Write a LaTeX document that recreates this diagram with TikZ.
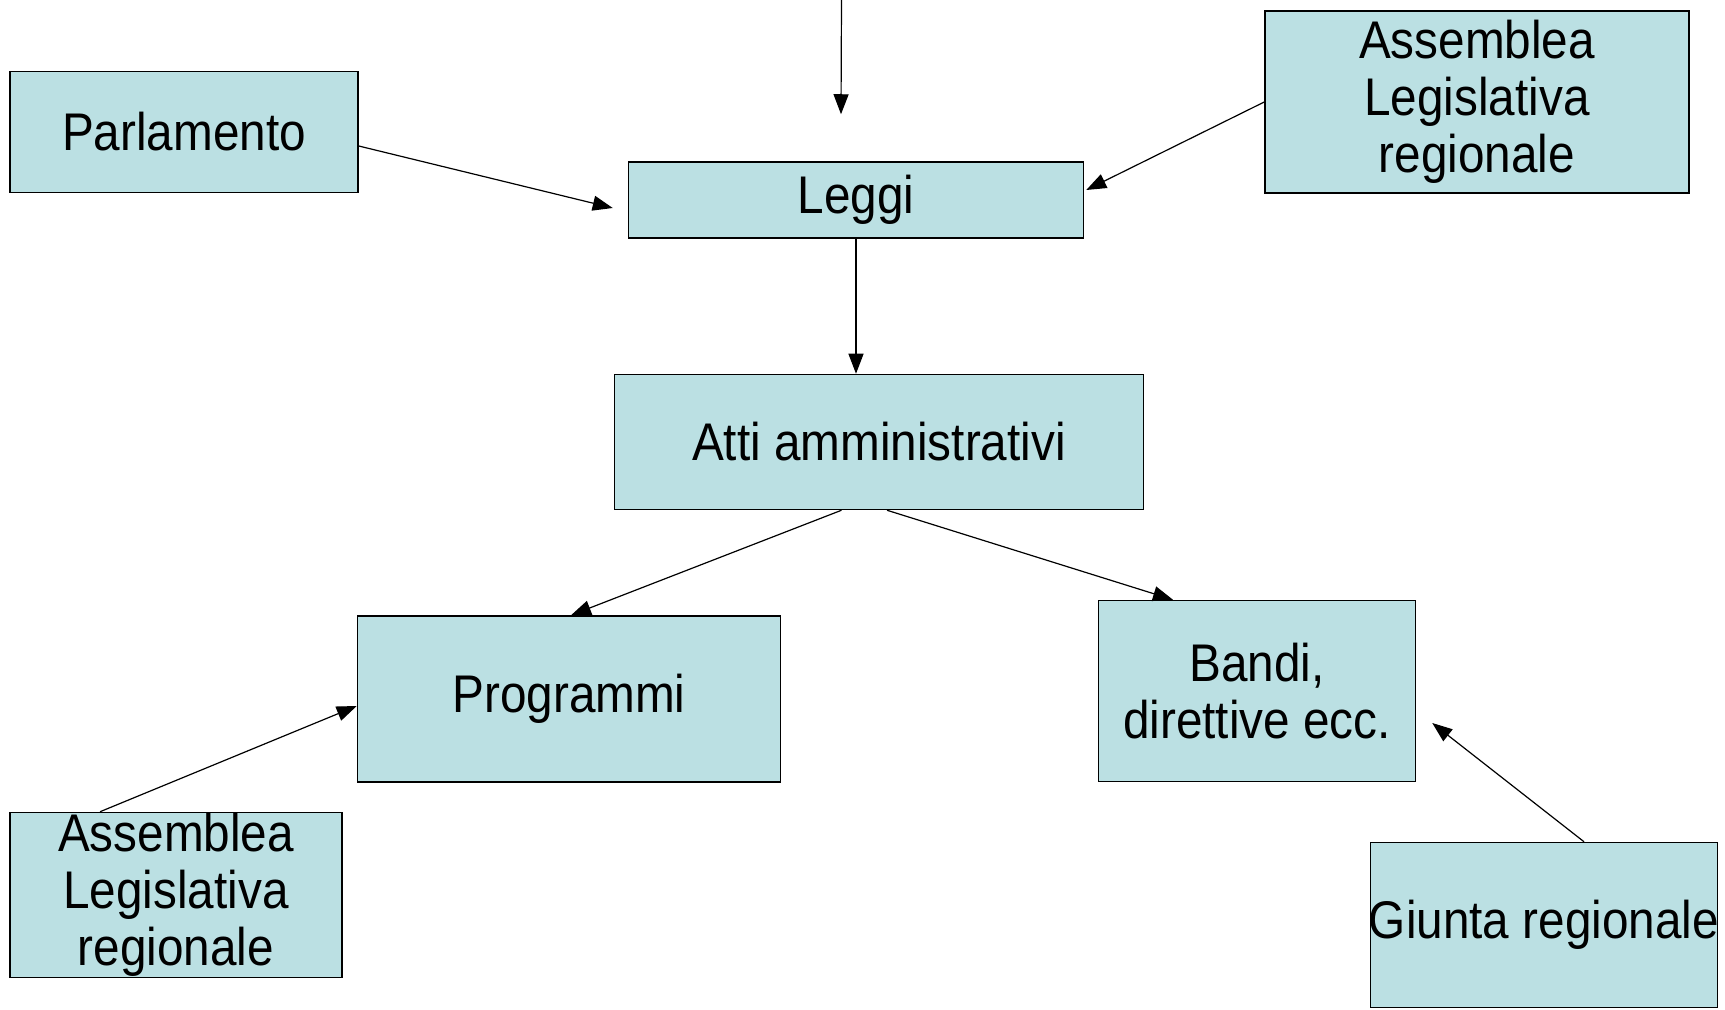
\documentclass[tikz,border=0pt]{standalone}
\usepackage{fontspec}
\setmainfont{Liberation Sans}[FakeStretch=0.9]
\usetikzlibrary{arrows.meta}
\definecolor{boxblue}{RGB}{187,224,227}
\tikzset{
  box/.style={draw, fill=boxblue, line width=0.75pt, inner sep=0pt, align=center,
    font=\fontsize{26.5}{28.5}\selectfont},
  arr/.style={-{Triangle[length=10pt,width=7.5pt]}, line width=0.6pt}
}
\begin{document}
\begin{tikzpicture}[x=0.5pt,y=-0.5pt]
    \useasboundingbox (0,0) rectangle (1725,1010);

    % boxes
    \node[box, minimum width=174pt, minimum height=60.5pt] (parl) at (184,132) {Parlamento};
    \node[box, minimum width=227.5pt, minimum height=38pt] (leggi) at (856,200) {Leggi};
    \node[box, minimum width=212pt, minimum height=91pt] (assTop) at (1477,102) {Assemblea\\Legislativa\\ regionale};
    \node[box, minimum width=264.5pt, minimum height=67.5pt] (atti) at (879,442) {Atti amministrativi};
    \node[box, minimum width=211.5pt, minimum height=83pt] (prog) at (569,699) {Programmi};
    \node[box, minimum width=158.5pt, minimum height=90.5pt] (bandi) at (1257,691) {Bandi,\\direttive ecc.};
    \node[box, minimum width=166pt, minimum height=82.5pt] (assBot) at (176,895) {Assemblea\\Legislativa\\regionale};
    \node[box, minimum width=173.5pt, minimum height=82.5pt] (giunta) at (1544,925) {\makebox[0pt]{Giunta regionale}};

    % connectors
    \coordinate (topIn) at (841.5,0);
    \draw[arr] (topIn) -- ([shift={(-15,-47)}]leggi.north);
    \draw[arr] ([shift={(0,14)}]parl.east) -- ([shift={(-15,8)}]leggi.west);
    \draw[arr] (assTop.west) -- ([shift={(2,-10)}]leggi.east);
    \draw[arr] (leggi.south) -- (leggi.south |- atti.north);
    \draw[arr] ([shift={(-37.5,0)}]atti.south) -- ([shift={(2,0)}]prog.north);
    \draw[arr] ([shift={(8,0)}]atti.south) -- ([shift={(-84,0)}]bandi.north);
    \draw[arr] ([shift={(-76,0)}]assBot.north) -- ([shift={(0,7)}]prog.west);
    \draw[arr] ([shift={(40,0)}]giunta.north) -- ([shift={(16,32)}]bandi.east);

\end{tikzpicture}
\end{document}
